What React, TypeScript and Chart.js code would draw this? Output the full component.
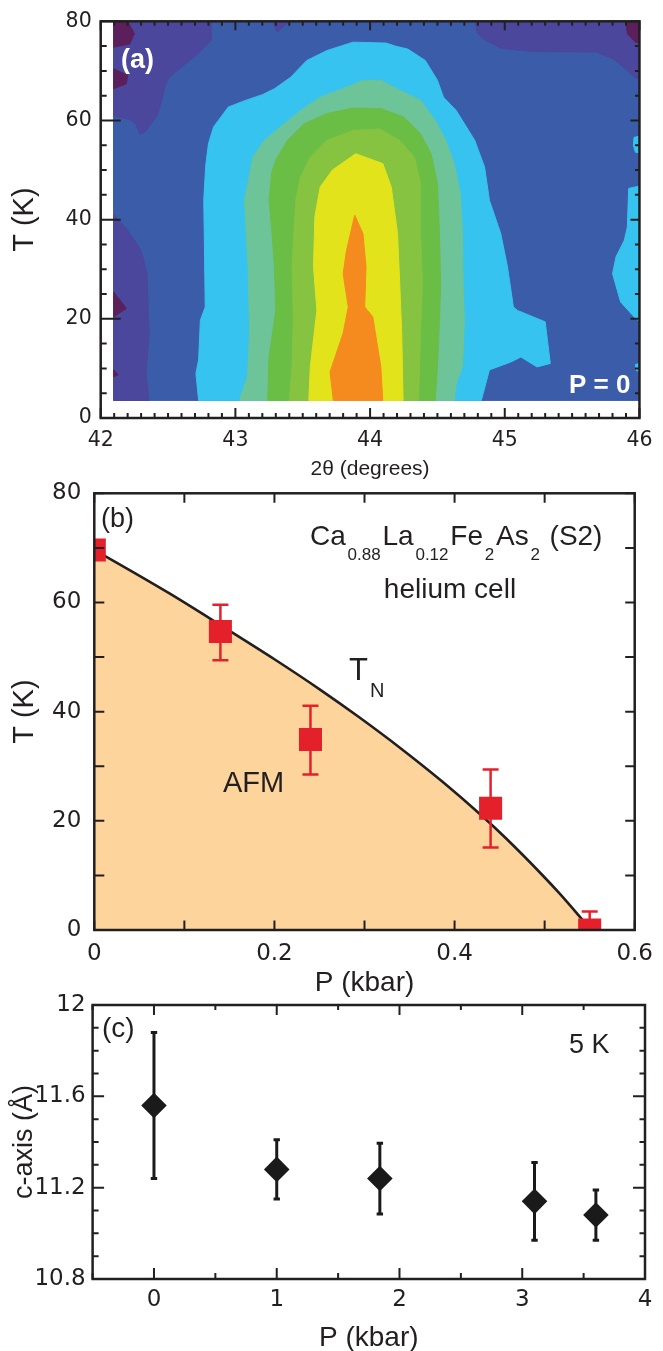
import React, { useEffect, useRef } from 'react';
import { Chart, registerables } from 'chart.js';

Chart.register(...registerables);

const W = 663;
const H = 1351;
const FONT = '"Liberation Sans", Arial, Helvetica, sans-serif';
const TICK_FONT = '"DejaVu Sans", "Liberation Sans", Arial, sans-serif';
const INK = '#231f20';

type Pt = [number, number];

/* ================= panel (a): contour map, 2θ (deg) vs T (K) ================= */
const A_X_TICKS = [42, 43, 44, 45, 46];
const A_X_LABELS = ['42', '43', '44', '45', '46'];
const A_Y_TICKS = [0, 20, 40, 60, 80];
const A_Y_LABELS = ['0', '20', '40', '60', '80'];

const A_BLUE: Pt[] = [[42.097, 3.55], [46, 3.55], [46, 80], [42.097, 80]];
const A_PURPLE_TOPLEFT: Pt[] = [[42.097, 80], [42.819, 80], [42.819, 76.2], [42.72, 73.4], [42.6, 70.8], [42.507, 68.7], [42.47, 66.4], [42.458, 64.4], [42.42, 61.0], [42.33, 57.7], [42.29, 57.3], [42.258, 59.4], [42.215, 60.2], [42.097, 60.9]];
const A_PURPLE_NOTCH: Pt[] = [[43.28, 80], [43.31, 77.8], [43.4, 80]];
const A_PURPLE_LEFT: Pt[] = [[42.097, 41.0], [42.2, 37.9], [42.3, 33.8], [42.345, 29.1], [42.352, 22.0], [42.36, 17.1], [42.336, 9.0], [42.358, 3.55], [42.097, 3.55]];
const A_PURPLE_TOPRIGHT: Pt[] = [[44.777, 80], [44.8, 77.5], [44.85, 76.3], [44.97, 74.6], [45.2, 73.9], [45.68, 73.8], [45.8, 72.5], [45.87, 71.0], [45.97, 68.6], [46, 68.4], [46, 80]];
const A_DARK_1: Pt[] = [[42.097, 80], [42.2, 80], [42.25, 77.5], [42.215, 75.4], [42.097, 74.8]];
const A_DARK_2: Pt[] = [[42.097, 70.4], [42.2, 69.1], [42.19, 67.4], [42.097, 66.4]];
const A_DARK_3: Pt[] = [[42.097, 25.4], [42.19, 22.1], [42.097, 20.4]];
const A_DARK_4: Pt[] = [[42.097, 9.7], [42.13, 8.7], [42.097, 8.3]];
const A_DARK_5: Pt[] = [[45.9, 80], [46, 80], [46, 75.6], [45.97, 75.8], [45.91, 77.5]];
const A_CYAN: Pt[] = [[42.727, 3.55], [42.707, 9.0], [42.727, 11.7], [42.74, 19.7], [42.776, 22.4], [42.77, 35.0], [42.765, 43.9], [42.78, 51.0], [42.8, 55.3], [42.838, 58.7], [42.947, 62.7], [43.07, 64.0], [43.2, 65.2], [43.29, 66.4], [43.41, 68.7], [43.53, 72.1], [43.68, 74.1], [43.874, 75.8], [44.12, 75.6], [44.2, 74.9], [44.28, 74.4], [44.41, 72.1], [44.5, 68.1], [44.545, 64.7], [44.64, 62.0], [44.777, 56.0], [44.85, 50.6], [44.886, 43.9], [44.97, 37.2], [45.02, 30.5], [45.064, 22.4], [45.094, 21.7], [45.3, 19.4], [45.338, 11.0], [45.24, 10.3], [45.12, 12.3], [45.045, 11.3], [44.886, 9.7], [44.826, 3.55]];
const A_CYAN_EDGE_1: Pt[] = [[46, 56.8], [45.96, 56.6], [45.955, 55.0], [45.97, 53.6], [46, 53.5]];
const A_CYAN_EDGE_2: Pt[] = [[46, 46.8], [45.97, 46.6], [45.92, 46.3], [45.91, 38.5], [45.887, 35.8], [45.826, 32.5], [45.8, 29.1], [45.86, 23.4], [45.97, 20.1], [46, 19.5]];
const A_CYAN_EDGE_3: Pt[] = [[46, 11.0], [45.97, 10.8], [45.975, 9.6], [46, 9.4]];
const A_TEAL: Pt[] = [[43.03, 3.55], [43.09, 8.3], [43.105, 17.1], [43.094, 30.5], [43.068, 43.9], [43.13, 52.6], [43.215, 56.0], [43.36, 59.3], [43.483, 62.0], [43.63, 64.7], [43.825, 66.7], [43.95, 68.1], [44.08, 68.1], [44.219, 66.1], [44.375, 64.1], [44.484, 60.0], [44.562, 56.0], [44.624, 51.3], [44.67, 45.3], [44.686, 37.2], [44.69, 27.2], [44.7, 19.8], [44.686, 10.4], [44.64, 7.0], [44.624, 3.55]];
const A_GREEN: Pt[] = [[43.24, 3.55], [43.25, 12.3], [43.3, 21.7], [43.29, 30.5], [43.27, 38.0], [43.25, 43.9], [43.27, 49.5], [43.3, 52.0], [43.386, 56.0], [43.508, 59.3], [43.68, 61.4], [43.87, 62.5], [44.08, 62.4], [44.25, 60.7], [44.375, 57.3], [44.453, 53.3], [44.5, 47.3], [44.515, 37.2], [44.524, 27.2], [44.515, 19.8], [44.5, 10.4], [44.484, 3.55]];
const A_YELLOWGREEN: Pt[] = [[43.4, 3.55], [43.42, 10.3], [43.43, 20.0], [43.42, 30.5], [43.447, 43.9], [43.483, 48.6], [43.556, 52.6], [43.68, 56.0], [43.874, 58.0], [44.07, 58.3], [44.219, 56.0], [44.33, 52.6], [44.375, 47.3], [44.375, 37.2], [44.39, 27.2], [44.375, 17.1], [44.36, 3.55]];
const A_YELLOW: Pt[] = [[43.545, 3.55], [43.556, 10.3], [43.605, 21.7], [43.58, 30.5], [43.59, 40.6], [43.63, 46.6], [43.72, 50.0], [43.893, 53.3], [44.095, 51.3], [44.157, 46.6], [44.204, 37.2], [44.22, 27.2], [44.235, 17.1], [44.245, 3.55]];
const A_ORANGE: Pt[] = [[43.727, 3.55], [43.703, 9.3], [43.8, 17.1], [43.838, 22.4], [43.8, 29.1], [43.825, 33.8], [43.886, 40.9], [43.947, 37.2], [43.97, 30.5], [43.96, 22.4], [44.02, 20.4], [44.08, 10.3], [44.094, 3.55]];

const C_DARKPURPLE = '#5b1f5c';
const C_PURPLE = '#4a479c';
const C_BLUE = '#3b5ca9';
const C_CYAN = '#36c3ef';
const C_TEAL = '#6dc499';
const C_GREEN = '#6abd45';
const C_YELLOWGREEN = '#86c341';
const C_YELLOW = '#e3e31c';
const C_ORANGE = '#f58a1f';

const A_LAYERS: { name: string; color: string; poly: Pt[] }[] = [
  { name: 'blue', color: C_BLUE, poly: A_BLUE },
  { name: 'purple TL', color: C_PURPLE, poly: A_PURPLE_TOPLEFT },
  { name: 'purple notch', color: C_PURPLE, poly: A_PURPLE_NOTCH },
  { name: 'purple L', color: C_PURPLE, poly: A_PURPLE_LEFT },
  { name: 'purple TR', color: C_PURPLE, poly: A_PURPLE_TOPRIGHT },
  { name: 'dark 1', color: C_DARKPURPLE, poly: A_DARK_1 },
  { name: 'dark 2', color: C_DARKPURPLE, poly: A_DARK_2 },
  { name: 'dark 3', color: C_DARKPURPLE, poly: A_DARK_3 },
  { name: 'dark 4', color: C_DARKPURPLE, poly: A_DARK_4 },
  { name: 'dark 5', color: C_DARKPURPLE, poly: A_DARK_5 },
  { name: 'cyan', color: C_CYAN, poly: A_CYAN },
  { name: 'cyan e1', color: C_CYAN, poly: A_CYAN_EDGE_1 },
  { name: 'cyan e2', color: C_CYAN, poly: A_CYAN_EDGE_2 },
  { name: 'cyan e3', color: C_CYAN, poly: A_CYAN_EDGE_3 },
  { name: 'teal', color: C_TEAL, poly: A_TEAL },
  { name: 'green', color: C_GREEN, poly: A_GREEN },
  { name: 'yellow-green', color: C_YELLOWGREEN, poly: A_YELLOWGREEN },
  { name: 'yellow', color: C_YELLOW, poly: A_YELLOW },
  { name: 'orange', color: C_ORANGE, poly: A_ORANGE },
];

/* ================= panel (b): phase diagram ================= */
const B_X_TICKS = [0, 0.2, 0.4, 0.6];
const B_X_LABELS = ['0', '0.2', '0.4', '0.6'];
const B_Y_TICKS = [0, 20, 40, 60, 80];
const B_Y_LABELS = ['0', '20', '40', '60', '80'];
const B_P = [0, 0.14, 0.24, 0.44, 0.55];
const B_T = [69.6, 54.7, 34.9, 22.3, 0];
const B_T_LO = [68.1, 49.4, 28.5, 15.1, -3.4];
const B_T_HI = [71.1, 59.6, 41.1, 29.4, 3.4];
const B_TN_P = [0, 0.013, 0.083, 0.1425, 0.2, 0.251, 0.293, 0.34, 0.387, 0.429, 0.457, 0.499, 0.517, 0.547];
const B_TN_T = [69.6, 68.4, 61.7, 55.6, 49.6, 44.0, 39.1, 33.3, 27.1, 21.1, 16.8, 9.8, 6.6, 0.9];
const C_AFM = '#fdd49c';
const C_RED = '#e4202a';

/* ================= panel (c): c-axis at 5 K ================= */
const C_X_TICKS = [0, 1, 2, 3, 4];
const C_X_LABELS = ['0', '1', '2', '3', '4'];
const C_Y_TICKS = [10.8, 11.2, 11.6, 12];
const C_Y_LABELS = ['10.8', '11.2', '11.6', '12'];
const C_P = [0, 1, 1.84, 3.1, 3.6];
const C_C = [11.56, 11.28, 11.24, 11.14, 11.08];
const C_C_LO = [11.24, 11.15, 11.085, 10.97, 10.97];
const C_C_HI = [11.88, 11.41, 11.395, 11.31, 11.19];
const C_MARK = '#1a1a1a';

/* ================= helpers ================= */
type TickCfg = { major: number[]; minorStep: number; near: [number, number]; far: [number, number] };

function framePlugin(xc: TickCfg, yc: TickCfg, border: number, tickW: number) {
  return {
    id: 'frame',
    afterDatasetsDraw(chart: any) {
      const { ctx, chartArea: a } = chart;
      const xs = chart.scales.x;
      const ys = chart.scales.y;
      const list = (s: any, c: TickCfg) => {
        const out: [number, boolean][] = c.major.map((v) => [v, true] as [number, boolean]);
        if (c.minorStep > 0) {
          const n = Math.round((s.max - s.min) / c.minorStep);
          for (let i = 0; i <= n; i++) {
            const v = s.min + i * c.minorStep;
            if (!c.major.some((m) => Math.abs(m - v) < 1e-6)) out.push([v, false]);
          }
        }
        return out;
      };
      ctx.save();
      ctx.strokeStyle = INK;
      ctx.lineWidth = tickW;
      ctx.beginPath();
      for (const [v, maj] of list(xs, xc)) {
        const p = xs.getPixelForValue(v);
        ctx.moveTo(p, a.bottom);
        ctx.lineTo(p, a.bottom - (maj ? xc.near[0] : xc.near[1]));
        ctx.moveTo(p, a.top);
        ctx.lineTo(p, a.top + (maj ? xc.far[0] : xc.far[1]));
      }
      for (const [v, maj] of list(ys, yc)) {
        const p = ys.getPixelForValue(v);
        ctx.moveTo(a.left, p);
        ctx.lineTo(a.left + (maj ? yc.near[0] : yc.near[1]), p);
        ctx.moveTo(a.right, p);
        ctx.lineTo(a.right - (maj ? yc.far[0] : yc.far[1]), p);
      }
      ctx.stroke();
      ctx.lineWidth = border;
      ctx.strokeRect(a.left, a.top, a.right - a.left, a.bottom - a.top);
      ctx.restore();
    },
  };
}

type TextItem = {
  text?: string;
  segs?: { t: string; sub?: boolean }[];
  x: number;
  y: number;
  size: number;
  subSize?: number;
  subDy?: number;
  gap?: number;
  weight?: string;
  color?: string;
  align?: CanvasTextAlign;
};

function textPlugin(items: TextItem[]) {
  return {
    id: 'notes',
    afterDraw(chart: any) {
      const ctx = chart.ctx as CanvasRenderingContext2D;
      ctx.save();
      ctx.textBaseline = 'alphabetic';
      for (const it of items) {
        ctx.fillStyle = it.color || INK;
        if (it.segs) {
          let x = it.x;
          ctx.textAlign = 'left';
          for (const s of it.segs) {
            ctx.font = `${s.sub ? it.subSize : it.size}px ${FONT}`;
            ctx.fillText(s.t, x, it.y + (s.sub ? it.subDy || 0 : 0));
            x += ctx.measureText(s.t).width + (it.gap || 0);
          }
        } else {
          ctx.font = `${it.weight || 'normal'} ${it.size}px ${FONT}`;
          ctx.textAlign = it.align || 'left';
          ctx.fillText(it.text || '', it.x, it.y);
        }
      }
      ctx.restore();
    },
  };
}

function axis(opts: {
  horizontal: boolean;
  min: number;
  max: number;
  ticks: number[];
  labels: string[];
  size: number;
  fontSize: number;
  pad: number;
  title: string;
  titleSize: number;
  titlePad: { top: number; bottom: number };
  titleLH?: number;
}) {
  return {
    type: 'linear',
    position: opts.horizontal ? 'bottom' : 'left',
    min: opts.min,
    max: opts.max,
    afterBuildTicks: (s: any) => {
      s.ticks = opts.ticks.map((v) => ({ value: v }));
    },
    afterFit: (s: any) => {
      if (opts.horizontal) s.height = opts.size;
      else s.width = opts.size;
    },
    grid: { display: false, drawTicks: false },
    border: { display: false },
    ticks: {
      autoSkip: false,
      maxRotation: 0,
      minRotation: 0,
      padding: opts.pad,
      color: INK,
      font: { family: TICK_FONT, size: opts.fontSize },
      callback: (_v: any, i: number) => opts.labels[i],
    },
    title: {
      display: true,
      text: opts.title,
      color: INK,
      font: { family: FONT, size: opts.titleSize, lineHeight: opts.titleLH || 1.2 },
      padding: opts.titlePad,
    },
  };
}

function errorData(xs: number[], lo: number[], hi: number[]) {
  const out: { x: number; y: number | null }[] = [];
  xs.forEach((x, i) => {
    out.push({ x, y: lo[i] }, { x, y: hi[i] }, { x, y: null });
  });
  return out;
}

const BASE = {
  responsive: false,
  maintainAspectRatio: false,
  animation: false,
  devicePixelRatio: 1,
  events: [] as string[],
};

/* ================= configs ================= */
function configA(): any {
  return {
    type: 'scatter',
    data: {
      datasets: A_LAYERS.map((L, i) => ({
        label: L.name,
        data: [...L.poly, L.poly[0]].map(([x, y]) => ({ x, y })),
        showLine: true,
        fill: 'shape',
        backgroundColor: L.color,
        borderColor: L.color,
        borderWidth: 1,
        pointRadius: 0,
        pointHoverRadius: 0,
        tension: 0,
        order: A_LAYERS.length - i,
      })),
    },
    options: {
      ...BASE,
      layout: { padding: { left: 0, top: 20.7, right: 16, bottom: H - 482 } },
      plugins: { legend: { display: false }, tooltip: { enabled: false } },
      scales: {
        x: axis({ horizontal: true, min: 42, max: 46, ticks: A_X_TICKS, labels: A_X_LABELS, size: 64, fontSize: 20.5, pad: 10.5, title: '2θ (degrees)', titleSize: 21, titlePad: { top: 0, bottom: 0 } }),
        y: axis({ horizontal: false, min: 0, max: 80, ticks: A_Y_TICKS, labels: A_Y_LABELS, size: 100.7, fontSize: 20.5, pad: 9, title: 'T (K)', titleSize: 29, titlePad: { top: 8, bottom: 0 } }),
      },
    },
    plugins: [
      framePlugin({ major: A_X_TICKS, minorStep: 0.1, near: [10, 5], far: [9, 4.5] }, { major: A_Y_TICKS, minorStep: 5, near: [20, 6], far: [9, 4.5] }, 2.5, 2),
      textPlugin([
        { text: '(a)', x: 121, y: 68, size: 27, weight: 'bold', color: '#ffffff' },
        { text: 'P = 0', x: 569, y: 393, size: 26, weight: 'bold', color: '#ffffff' },
      ]),
    ],
  };
}

function configB(): any {
  return {
    type: 'scatter',
    data: {
      datasets: [
        {
          label: 'T_N',
          data: B_TN_P.map((x, i) => ({ x, y: B_TN_T[i] })),
          showLine: true,
          fill: 'origin',
          backgroundColor: C_AFM,
          borderColor: INK,
          borderWidth: 2.6,
          pointRadius: 0,
          cubicInterpolationMode: 'monotone',
          order: 3,
        },
        {
          label: 'error',
          data: errorData(B_P, B_T_LO, B_T_HI),
          showLine: true,
          spanGaps: false,
          borderColor: C_RED,
          borderWidth: 2.5,
          pointStyle: 'line',
          pointRadius: 8,
          pointBorderWidth: 2.5,
          pointBorderColor: C_RED,
          clip: 0,
          order: 2,
        },
        {
          label: 'T_N data',
          data: B_P.map((x, i) => ({ x, y: B_T[i] })),
          pointStyle: 'rect',
          pointRadius: 16.3,
          pointBorderWidth: 0,
          backgroundColor: C_RED,
          borderColor: C_RED,
          clip: 0,
          order: 1,
        },
      ],
    },
    options: {
      ...BASE,
      layout: { padding: { left: 0, top: 493.3, right: 22.5, bottom: 351 } },
      plugins: { legend: { display: false }, tooltip: { enabled: false } },
      scales: {
        x: axis({ horizontal: true, min: 0, max: 0.6, ticks: B_X_TICKS, labels: B_X_LABELS, size: 70, fontSize: 23, pad: 10, title: 'P (kbar)', titleSize: 28, titlePad: { top: 0, bottom: 0 } }),
        y: axis({ horizontal: false, min: 0, max: 80, ticks: B_Y_TICKS, labels: B_Y_LABELS, size: 94.3, fontSize: 23, pad: 13, title: 'T (K)', titleSize: 29, titlePad: { top: 8, bottom: 0 } }),
      },
    },
    plugins: [
      framePlugin({ major: B_X_TICKS, minorStep: 0.1, near: [9.5, 9.5], far: [9.5, 9.5] }, { major: B_Y_TICKS, minorStep: 10, near: [10, 10], far: [9.5, 9.5] }, 2.5, 2),
      textPlugin([
        { text: '(b)', x: 101, y: 527, size: 27 },
        {
          segs: [
            { t: 'Ca' },
            { t: '0.88', sub: true },
            { t: 'La' },
            { t: '0.12', sub: true },
            { t: 'Fe' },
            { t: '2', sub: true },
            { t: 'As' },
            { t: '2', sub: true },
            { t: ' (S2)' },
          ],
          x: 310,
          y: 545,
          size: 28,
          subSize: 17,
          subDy: 15,
          gap: 1.8,
        },
        { text: 'helium cell', x: 450, y: 598, size: 28, align: 'center' },
        { text: 'T', x: 349, y: 680, size: 31 },
        { text: 'N', x: 370, y: 697, size: 20 },
        { text: 'AFM', x: 223, y: 792, size: 29 },
      ]),
    ],
  };
}

function configC(): any {
  return {
    type: 'scatter',
    data: {
      datasets: [
        {
          label: 'error',
          data: errorData(C_P, C_C_LO, C_C_HI),
          showLine: true,
          spanGaps: false,
          borderColor: C_MARK,
          borderWidth: 3,
          pointStyle: 'line',
          pointRadius: 3.2,
          pointBorderWidth: 3,
          pointBorderColor: C_MARK,
          order: 2,
        },
        {
          label: 'c-axis',
          data: C_P.map((x, i) => ({ x, y: C_C[i] })),
          pointStyle: 'rectRot',
          pointRadius: 12.8,
          pointBorderWidth: 0,
          backgroundColor: C_MARK,
          borderColor: C_MARK,
          order: 1,
        },
      ],
    },
    options: {
      ...BASE,
      layout: { padding: { left: 0, top: 1005, right: 18, bottom: 0 } },
      plugins: { legend: { display: false }, tooltip: { enabled: false } },
      scales: {
        x: axis({ horizontal: true, min: -0.5, max: 4, ticks: C_X_TICKS, labels: C_X_LABELS, size: 72, fontSize: 23, pad: 7, title: 'P (kbar)', titleSize: 28, titlePad: { top: 0, bottom: -1 }, titleLH: 1.0 }),
        y: axis({ horizontal: false, min: 10.8, max: 12, ticks: C_Y_TICKS, labels: C_Y_LABELS, size: 92.6, fontSize: 23, pad: 7, title: 'c-axis (Å)', titleSize: 27, titlePad: { top: 8, bottom: 0 } }),
      },
    },
    plugins: [
      framePlugin({ major: C_X_TICKS, minorStep: 0.5, near: [11, 6], far: [10, 5] }, { major: C_Y_TICKS, minorStep: 0.1, near: [11.5, 6], far: [12, 5.5] }, 2.5, 2),
      textPlugin([
        { text: '(c)', x: 102, y: 1037, size: 28 },
        { text: '5 K', x: 569, y: 1053, size: 27 },
      ]),
    ],
  };
}

export default function App() {
  const ra = useRef<HTMLCanvasElement>(null);
  const rb = useRef<HTMLCanvasElement>(null);
  const rc = useRef<HTMLCanvasElement>(null);

  useEffect(() => {
    const charts: Chart[] = [];
    if (ra.current) charts.push(new Chart(ra.current, configA()));
    if (rb.current) charts.push(new Chart(rb.current, configB()));
    if (rc.current) charts.push(new Chart(rc.current, configC()));
    return () => charts.forEach((c) => c.destroy());
  }, []);

  const cs: React.CSSProperties = { position: 'absolute', left: 0, top: 0, width: W, height: H };
  return (
    <div style={{ position: 'absolute', left: 0, top: 0, width: W, height: H, background: '#ffffff', overflow: 'hidden' }}>
      <canvas ref={rc} width={W} height={H} style={cs} />
      <canvas ref={rb} width={W} height={H} style={cs} />
      <canvas ref={ra} width={W} height={H} style={cs} />
    </div>
  );
}
